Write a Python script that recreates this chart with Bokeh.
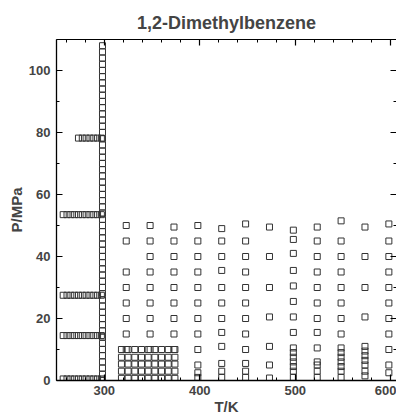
from bokeh.plotting import figure
from bokeh.models import LinearAxis, SingleIntervalTicker, Range1d, ColumnDataSource, CustomJSTickFormatter
from bokeh.embed import file_html
from bokeh.resources import INLINE

# ---- data ----
col_T = 298.15
col_P = [0.1, 2, 4, 6, 8, 10, 12, 14, 16, 18, 20, 22, 24, 26, 28, 30, 32, 34, 36, 38,
         40, 42, 44, 46, 48, 50, 52, 54, 56, 58, 60, 62, 64, 66, 68, 70, 72, 74, 76,
         78, 80, 82, 84, 86, 88, 90, 92, 94, 96, 98, 100, 102, 104, 106, 108]

iso_P = [53.5, 27.5, 14.5, 0.5]
iso_T = [257, 261, 265, 269, 273, 277, 281, 285, 289, 293, 297]
iso78_P = 78.2
iso78_T = [273, 277, 281, 285, 289, 293, 297]

block_T = [318, 325, 332, 339, 346, 353, 360, 367, 374]
block_P = [10, 7.5, 5.3, 3, 0.7]

grid_T = [323, 348, 373, 398, 423, 448, 473, 498, 523, 548, 573, 598]
grid_P = [
    [50, 45, 35, 30, 25, 20, 15, 10],
    [50, 45, 40, 35, 30, 25, 20, 15, 10],
    [49.5, 45, 40, 35, 30, 25, 20, 15, 10],
    [50, 45, 40, 35, 30, 25, 20, 15, 10, 5, 2.5, 1],
    [49, 45, 40, 35.5, 30, 25, 20, 15.5, 11, 5.5, 3, 1],
    [50.5, 45, 40, 35, 30, 25, 20, 15, 10, 5.5, 3, 1],
    [49.5, 40, 30, 20.5, 11, 5, 0.8],
    [48.5, 45.5, 41, 35.5, 30.5, 25.5, 20.5, 15.5, 10.5, 9, 7.5, 6, 4.5, 3, 1],
    [49.5, 45, 40, 35, 30, 25, 20, 15.5, 10.5, 6, 5, 3, 1],
    [51.5, 45, 40, 35, 30, 25, 20, 15, 10.5, 9, 7.5, 6, 4.5, 3, 1],
    [49.5, 40, 30, 20.5, 11, 9.5, 8, 6.5, 5, 3, 1.5],
    [50.5, 45, 40, 35, 30, 25, 20, 15, 10, 5, 2.5],
]

x_label = "T/K"
y_label = "P/MPa"
title = "1,2-Dimethylbenzene"

# ---- assemble ----
T, P = [], []
for pv in col_P:
    T.append(col_T); P.append(pv)
for pv in iso_P:
    for tv in iso_T:
        T.append(tv); P.append(pv)
for tv in iso78_T:
    T.append(tv); P.append(iso78_P)
for pv in block_P:
    for tv in block_T:
        T.append(tv); P.append(pv)
for tv, plist in zip(grid_T, grid_P):
    for pv in plist:
        T.append(tv); P.append(pv)

src = ColumnDataSource(dict(T=T, P=P))

FONT = "Liberation Sans"

p = figure(width=396, height=417, output_backend="svg", toolbar_location=None,
           x_range=Range1d(250, 606), y_range=Range1d(0, 110),
           x_axis_location=None, y_axis_location=None,
           min_border_left=56, min_border_right=0, min_border_top=39, min_border_bottom=36)
p.outline_line_color = None
p.xgrid.grid_line_color = None
p.ygrid.grid_line_color = None

p.title.text = title
p.title.align = "center"
p.title.text_font = FONT
p.title.text_font_size = "18px"
p.title.text_font_style = "bold"
p.title.standoff = 13

xt = SingleIntervalTicker(interval=100, num_minor_ticks=5)
yt = SingleIntervalTicker(interval=20, num_minor_ticks=2)

def style(ax, labels=True):
    ax.major_tick_in = 6
    ax.major_tick_out = 0
    ax.minor_tick_in = 3
    ax.minor_tick_out = 0
    ax.axis_line_width = 1.3
    ax.major_tick_line_width = 1.2
    ax.minor_tick_line_width = 1.0
    ax.major_label_text_font = FONT
    ax.major_label_text_font_style = "bold"
    ax.major_label_text_font_size = "13px"
    ax.major_label_text_line_height = 1.0
    ax.axis_label_text_font = FONT
    ax.axis_label_text_font_style = "bold"
    ax.axis_label_text_font_size = "15px"
    ax.axis_label_text_line_height = 1.0
    if not labels:
        ax.formatter = CustomJSTickFormatter(code="return ''")
        ax.major_label_standoff = 0
        ax.axis_label_standoff = 0

bottom = LinearAxis(ticker=xt, axis_label=x_label)
style(bottom)
bottom.major_label_standoff = 5
bottom.axis_label_standoff = 0
p.add_layout(bottom, "below")

left = LinearAxis(ticker=yt, axis_label=y_label)
style(left)
left.major_label_standoff = 6
left.axis_label_standoff = 1
p.add_layout(left, "left")

top = LinearAxis(ticker=xt)
style(top, labels=False)
top.axis_line_width = 1.0
p.add_layout(top, "above")

right = LinearAxis(ticker=yt)
style(right, labels=False)
right.axis_line_color = None
p.add_layout(right, "right")

p.scatter("T", "P", source=src, marker="square", size=6,
          fill_color=None, line_color="#333333", line_width=1)

open("out.html", "w").write(file_html(p, INLINE))
